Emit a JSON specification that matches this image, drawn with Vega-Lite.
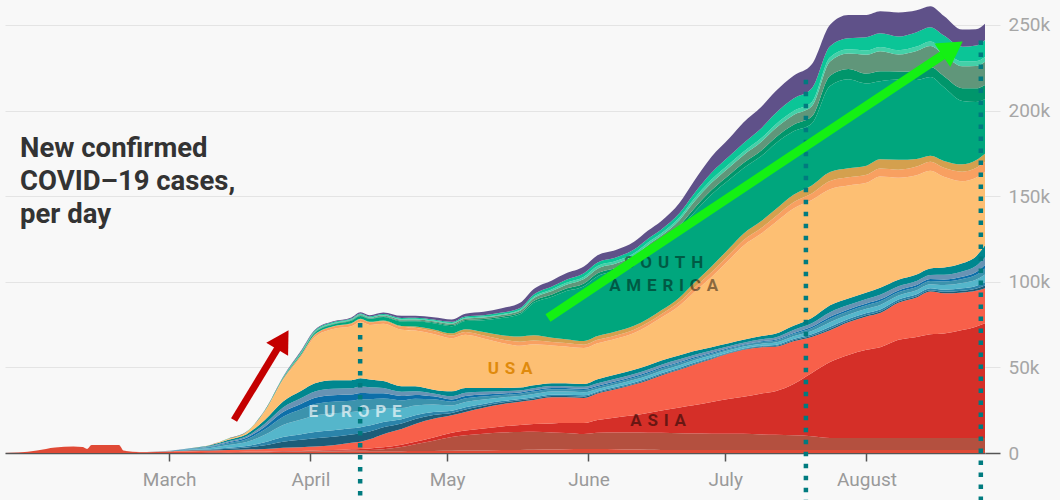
{
"$schema": "https://vega.github.io/schema/vega-lite/v6.json",
"width": 980, "height": 453,
"autosize": {"type": "none"},
"padding": {"left": 5, "top": 0, "right": 75, "bottom": 47},
"background": "#f8f8f8",
"config": {"font": "Roboto", "view": {"stroke": null}},
"datasets": {
"regions": [
{"region":"E Asia","k":1},{"region":"W Asia","k":2},{"region":"S Asia","k":3},{"region":"SE Asia","k":4},
{"region":"E Europe","k":5},{"region":"C Europe","k":6},{"region":"W Europe","k":7},{"region":"S Europe","k":8},{"region":"N Europe","k":9},{"region":"Balkans","k":10},{"region":"UK","k":11},
{"region":"USA","k":12},{"region":"Canada","k":13},{"region":"Mexico","k":14},
{"region":"Brazil","k":15},{"region":"Peru","k":16},{"region":"Chile","k":17},{"region":"Colombia","k":18},{"region":"Argentina","k":19},{"region":"Africa","k":20}],
"cases": [
{"date":"2020-01-25","E Asia":0,"W Asia":0,"S Asia":0,"SE Asia":0,"E Europe":0,"C Europe":0,"W Europe":0,"S Europe":0,"N Europe":0,"Balkans":0,"UK":0,"USA":0,"Canada":0,"Mexico":0,"Brazil":0,"Peru":0,"Chile":0,"Colombia":0,"Argentina":0,"Africa":0},
{"date":"2020-01-28","E Asia":0.3,"W Asia":0,"S Asia":0,"SE Asia":0,"E Europe":0,"C Europe":0,"W Europe":0,"S Europe":0,"N Europe":0,"Balkans":0,"UK":0,"USA":0,"Canada":0,"Mexico":0,"Brazil":0,"Peru":0,"Chile":0,"Colombia":0,"Argentina":0,"Africa":0},
{"date":"2020-02-01","E Asia":1.5,"W Asia":0,"S Asia":0,"SE Asia":0,"E Europe":0,"C Europe":0,"W Europe":0,"S Europe":0,"N Europe":0,"Balkans":0,"UK":0,"USA":0,"Canada":0,"Mexico":0,"Brazil":0,"Peru":0,"Chile":0,"Colombia":0,"Argentina":0,"Africa":0},
{"date":"2020-02-05","E Asia":3.2,"W Asia":0,"S Asia":0,"SE Asia":0,"E Europe":0,"C Europe":0,"W Europe":0,"S Europe":0,"N Europe":0,"Balkans":0,"UK":0,"USA":0,"Canada":0,"Mexico":0,"Brazil":0,"Peru":0,"Chile":0,"Colombia":0,"Argentina":0,"Africa":0},
{"date":"2020-02-09","E Asia":3.8,"W Asia":0,"S Asia":0,"SE Asia":0,"E Europe":0,"C Europe":0,"W Europe":0,"S Europe":0,"N Europe":0,"Balkans":0,"UK":0,"USA":0,"Canada":0,"Mexico":0,"Brazil":0,"Peru":0,"Chile":0,"Colombia":0,"Argentina":0,"Africa":0},
{"date":"2020-02-11","E Asia":3.5,"W Asia":0,"S Asia":0,"SE Asia":0,"E Europe":0,"C Europe":0,"W Europe":0,"S Europe":0,"N Europe":0,"Balkans":0,"UK":0,"USA":0,"Canada":0,"Mexico":0,"Brazil":0,"Peru":0,"Chile":0,"Colombia":0,"Argentina":0,"Africa":0},
{"date":"2020-02-12","E Asia":2.4,"W Asia":0,"S Asia":0,"SE Asia":0,"E Europe":0,"C Europe":0,"W Europe":0,"S Europe":0,"N Europe":0,"Balkans":0,"UK":0,"USA":0,"Canada":0,"Mexico":0,"Brazil":0,"Peru":0,"Chile":0,"Colombia":0,"Argentina":0,"Africa":0},
{"date":"2020-02-13","E Asia":4.7,"W Asia":0,"S Asia":0,"SE Asia":0,"E Europe":0,"C Europe":0,"W Europe":0,"S Europe":0,"N Europe":0,"Balkans":0,"UK":0,"USA":0,"Canada":0,"Mexico":0,"Brazil":0,"Peru":0,"Chile":0,"Colombia":0,"Argentina":0,"Africa":0},
{"date":"2020-02-19","E Asia":4.7,"W Asia":0,"S Asia":0,"SE Asia":0,"E Europe":0,"C Europe":0,"W Europe":0,"S Europe":0,"N Europe":0,"Balkans":0,"UK":0,"USA":0,"Canada":0,"Mexico":0,"Brazil":0,"Peru":0,"Chile":0,"Colombia":0,"Argentina":0,"Africa":0},
{"date":"2020-02-20","E Asia":1.5,"W Asia":0,"S Asia":0,"SE Asia":0,"E Europe":0,"C Europe":0,"W Europe":0,"S Europe":0,"N Europe":0,"Balkans":0,"UK":0,"USA":0,"Canada":0,"Mexico":0,"Brazil":0,"Peru":0,"Chile":0,"Colombia":0,"Argentina":0,"Africa":0},
{"date":"2020-02-22","E Asia":0.8,"W Asia":0,"S Asia":0,"SE Asia":0,"E Europe":0,"C Europe":0,"W Europe":0,"S Europe":0,"N Europe":0,"Balkans":0,"UK":0,"USA":0,"Canada":0,"Mexico":0,"Brazil":0,"Peru":0,"Chile":0,"Colombia":0,"Argentina":0,"Africa":0},
{"date":"2020-02-25","E Asia":0.5,"W Asia":0,"S Asia":0,"SE Asia":0.1,"E Europe":0,"C Europe":0,"W Europe":0,"S Europe":0,"N Europe":0,"Balkans":0,"UK":0,"USA":0,"Canada":0,"Mexico":0,"Brazil":0,"Peru":0,"Chile":0,"Colombia":0,"Argentina":0,"Africa":0},
{"date":"2020-03-01","E Asia":0.6,"W Asia":0.1,"S Asia":0,"SE Asia":0.3,"E Europe":0.04,"C Europe":0.03,"W Europe":0.08,"S Europe":0.05,"N Europe":0.03,"Balkans":0.03,"UK":0.04,"USA":0,"Canada":0,"Mexico":0,"Brazil":0,"Peru":0,"Chile":0,"Colombia":0,"Argentina":0,"Africa":0},
{"date":"2020-03-06","E Asia":0.7,"W Asia":0.1,"S Asia":0,"SE Asia":0.7,"E Europe":0.18,"C Europe":0.14,"W Europe":0.36,"S Europe":0.25,"N Europe":0.14,"Balkans":0.14,"UK":0.18,"USA":0.1,"Canada":0,"Mexico":0,"Brazil":0,"Peru":0,"Chile":0,"Colombia":0,"Argentina":0,"Africa":0},
{"date":"2020-03-10","E Asia":0.5,"W Asia":0.1,"S Asia":0,"SE Asia":0.9,"E Europe":0.39,"C Europe":0.3,"W Europe":0.78,"S Europe":0.54,"N Europe":0.3,"Balkans":0.3,"UK":0.39,"USA":0.2,"Canada":0,"Mexico":0,"Brazil":0,"Peru":0,"Chile":0,"Colombia":0,"Argentina":0,"Africa":0},
{"date":"2020-03-14","E Asia":0.4,"W Asia":0.1,"S Asia":0,"SE Asia":1.2,"E Europe":0.78,"C Europe":0.6,"W Europe":1.56,"S Europe":1.08,"N Europe":0.6,"Balkans":0.6,"UK":0.78,"USA":0.6,"Canada":0,"Mexico":0,"Brazil":0.1,"Peru":0,"Chile":0,"Colombia":0,"Argentina":0,"Africa":0.1},
{"date":"2020-03-18","E Asia":0.5,"W Asia":0.2,"S Asia":0.1,"SE Asia":1.2,"E Europe":1.17,"C Europe":0.9,"W Europe":2.34,"S Europe":1.62,"N Europe":0.9,"Balkans":0.9,"UK":1.17,"USA":1.2,"Canada":0.1,"Mexico":0,"Brazil":0.1,"Peru":0,"Chile":0,"Colombia":0,"Argentina":0,"Africa":0.1},
{"date":"2020-03-22","E Asia":0.5,"W Asia":0.2,"S Asia":0.1,"SE Asia":1.5,"E Europe":2.21,"C Europe":1.7,"W Europe":4.42,"S Europe":3.06,"N Europe":1.7,"Balkans":1.7,"UK":2.21,"USA":5,"Canada":0.3,"Mexico":0.05,"Brazil":0.2,"Peru":0,"Chile":0,"Colombia":0,"Argentina":0.1,"Africa":0.1},
{"date":"2020-03-26","E Asia":0.6,"W Asia":0.3,"S Asia":0.2,"SE Asia":2.0,"E Europe":3.51,"C Europe":2.7,"W Europe":7.02,"S Europe":4.86,"N Europe":2.7,"Balkans":2.7,"UK":3.51,"USA":12.5,"Canada":0.6,"Mexico":0.1,"Brazil":0.4,"Peru":0.1,"Chile":0.1,"Colombia":0.1,"Argentina":0.3,"Africa":0.3},
{"date":"2020-03-30","E Asia":0.7,"W Asia":0.3,"S Asia":0.2,"SE Asia":2.2,"E Europe":4.29,"C Europe":3.3,"W Europe":8.58,"S Europe":5.94,"N Europe":3.3,"Balkans":3.3,"UK":4.29,"USA":20,"Canada":1.0,"Mexico":0.1,"Brazil":0.8,"Peru":0.1,"Chile":0.2,"Colombia":0.2,"Argentina":0.6,"Africa":0.6},
{"date":"2020-04-02","E Asia":0.8,"W Asia":0.3,"S Asia":0.3,"SE Asia":2.4,"E Europe":4.81,"C Europe":3.7,"W Europe":9.62,"S Europe":6.66,"N Europe":3.7,"Balkans":3.7,"UK":4.81,"USA":27,"Canada":1.3,"Mexico":0.2,"Brazil":1.0,"Peru":0.2,"Chile":0.3,"Colombia":0.3,"Argentina":0.5,"Africa":0.4},
{"date":"2020-04-06","E Asia":0.9,"W Asia":0.4,"S Asia":0.4,"SE Asia":2.8,"E Europe":4.94,"C Europe":3.8,"W Europe":9.88,"S Europe":6.84,"N Europe":3.8,"Balkans":3.8,"UK":4.94,"USA":30,"Canada":1.4,"Mexico":0.2,"Brazil":1.0,"Peru":0.2,"Chile":0.3,"Colombia":0.3,"Argentina":0.6,"Africa":0.4},
{"date":"2020-04-10","E Asia":1.0,"W Asia":0.5,"S Asia":0.7,"SE Asia":3.8,"E Europe":4.75,"C Europe":3.65,"W Europe":9.49,"S Europe":6.57,"N Europe":3.65,"Balkans":3.65,"UK":4.75,"USA":31.5,"Canada":1.5,"Mexico":0.3,"Brazil":1.4,"Peru":0.3,"Chile":0.3,"Colombia":0.3,"Argentina":0.5,"Africa":0.6},
{"date":"2020-04-12","E Asia":1.0,"W Asia":0.6,"S Asia":0.8,"SE Asia":4.2,"E Europe":4.81,"C Europe":3.7,"W Europe":9.62,"S Europe":6.66,"N Europe":3.7,"Balkans":3.7,"UK":4.81,"USA":33,"Canada":1.5,"Mexico":0.3,"Brazil":1.6,"Peru":0.3,"Chile":0.4,"Colombia":0.3,"Argentina":0.5,"Africa":0.7},
{"date":"2020-04-14","E Asia":1.0,"W Asia":0.8,"S Asia":0.9,"SE Asia":5.3,"E Europe":4.55,"C Europe":3.5,"W Europe":9.1,"S Europe":6.3,"N Europe":3.5,"Balkans":3.5,"UK":4.55,"USA":31.8,"Canada":1.5,"Mexico":0.3,"Brazil":1.7,"Peru":0.3,"Chile":0.4,"Colombia":0.3,"Argentina":0.5,"Africa":0.7},
{"date":"2020-04-17","E Asia":1.0,"W Asia":1.2,"S Asia":1.1,"SE Asia":7.7,"E Europe":4.03,"C Europe":3.1,"W Europe":8.06,"S Europe":5.58,"N Europe":3.1,"Balkans":3.1,"UK":4.03,"USA":33.5,"Canada":1.5,"Mexico":0.4,"Brazil":2.0,"Peru":0.4,"Chile":0.5,"Colombia":0.3,"Argentina":0.6,"Africa":0.9},
{"date":"2020-04-21","E Asia":1.0,"W Asia":2.5,"S Asia":1.3,"SE Asia":9.2,"E Europe":3.25,"C Europe":2.5,"W Europe":6.5,"S Europe":4.5,"N Europe":2.5,"Balkans":2.5,"UK":3.25,"USA":33,"Canada":1.7,"Mexico":0.5,"Brazil":2.6,"Peru":0.5,"Chile":0.6,"Colombia":0.4,"Argentina":0.6,"Africa":1.2},
{"date":"2020-04-24","E Asia":1.1,"W Asia":4,"S Asia":1.5,"SE Asia":10.4,"E Europe":2.86,"C Europe":2.2,"W Europe":5.72,"S Europe":3.96,"N Europe":2.2,"Balkans":2.2,"UK":2.86,"USA":32.5,"Canada":1.7,"Mexico":0.7,"Brazil":3.0,"Peru":0.5,"Chile":0.6,"Colombia":0.4,"Argentina":0.6,"Africa":1.2},
{"date":"2020-04-28","E Asia":1.2,"W Asia":6,"S Asia":1.9,"SE Asia":10.9,"E Europe":2.21,"C Europe":1.7,"W Europe":4.42,"S Europe":3.06,"N Europe":1.7,"Balkans":1.7,"UK":2.21,"USA":32.5,"Canada":1.7,"Mexico":1.0,"Brazil":3.6,"Peru":0.5,"Chile":0.7,"Colombia":0.4,"Argentina":0.6,"Africa":1.3},
{"date":"2020-05-02","E Asia":1.3,"W Asia":8,"S Asia":2.5,"SE Asia":10.2,"E Europe":1.4,"C Europe":1.26,"W Europe":3.08,"S Europe":2.24,"N Europe":1.26,"Balkans":1.96,"UK":2.8,"USA":31,"Canada":1.6,"Mexico":1.3,"Brazil":4.2,"Peru":0.6,"Chile":0.8,"Colombia":0.4,"Argentina":0.7,"Africa":1.4},
{"date":"2020-05-05","E Asia":1.4,"W Asia":9,"S Asia":2.7,"SE Asia":10.9,"E Europe":1.4,"C Europe":1.26,"W Europe":3.08,"S Europe":2.24,"N Europe":1.26,"Balkans":1.96,"UK":2.8,"USA":31,"Canada":1.7,"Mexico":1.6,"Brazil":4.8,"Peru":0.6,"Chile":0.8,"Colombia":0.5,"Argentina":0.8,"Africa":1.6},
{"date":"2020-05-09","E Asia":1.5,"W Asia":9.8,"S Asia":3.0,"SE Asia":12.2,"E Europe":1.15,"C Europe":1.04,"W Europe":2.53,"S Europe":1.84,"N Europe":1.04,"Balkans":1.61,"UK":2.3,"USA":28.8,"Canada":1.8,"Mexico":2.0,"Brazil":7.0,"Peru":0.7,"Chile":0.9,"Colombia":0.5,"Argentina":0.8,"Africa":2.0},
{"date":"2020-05-13","E Asia":1.7,"W Asia":10.3,"S Asia":3.5,"SE Asia":13,"E Europe":0.95,"C Europe":0.86,"W Europe":2.09,"S Europe":1.52,"N Europe":0.86,"Balkans":1.33,"UK":1.9,"USA":26.3,"Canada":2.0,"Mexico":2.5,"Brazil":10,"Peru":0.8,"Chile":1.0,"Colombia":0.5,"Argentina":0.9,"Africa":2.5},
{"date":"2020-05-17","E Asia":1.8,"W Asia":10.5,"S Asia":4.0,"SE Asia":13.7,"E Europe":0.82,"C Europe":0.74,"W Europe":1.8,"S Europe":1.31,"N Europe":0.74,"Balkans":1.15,"UK":1.64,"USA":24.5,"Canada":2.3,"Mexico":3.0,"Brazil":13,"Peru":0.9,"Chile":1.2,"Colombia":0.6,"Argentina":1.0,"Africa":3.0},
{"date":"2020-05-20","E Asia":1.9,"W Asia":10.5,"S Asia":4.5,"SE Asia":14.1,"E Europe":0.85,"C Europe":0.77,"W Europe":1.87,"S Europe":1.36,"N Europe":0.77,"Balkans":1.19,"UK":1.7,"USA":24,"Canada":2.2,"Mexico":3.0,"Brazil":19,"Peru":1.1,"Chile":1.6,"Colombia":0.8,"Argentina":1.4,"Africa":3.2},
{"date":"2020-05-24","E Asia":2.0,"W Asia":10,"S Asia":5.3,"SE Asia":15.2,"E Europe":0.83,"C Europe":0.75,"W Europe":1.83,"S Europe":1.33,"N Europe":0.75,"Balkans":1.16,"UK":1.66,"USA":22,"Canada":2,"Mexico":2.5,"Brazil":24,"Peru":1.3,"Chile":2.0,"Colombia":1.0,"Argentina":1.7,"Africa":3.5},
{"date":"2020-05-27","E Asia":2.2,"W Asia":9.5,"S Asia":5.8,"SE Asia":15,"E Europe":0.82,"C Europe":0.74,"W Europe":1.8,"S Europe":1.31,"N Europe":0.74,"Balkans":1.15,"UK":1.64,"USA":21.5,"Canada":2,"Mexico":2.3,"Brazil":28,"Peru":1.4,"Chile":2.2,"Colombia":1.2,"Argentina":1.8,"Africa":3.7},
{"date":"2020-05-31","E Asia":2.3,"W Asia":8.8,"S Asia":6.4,"SE Asia":14.6,"E Europe":0.82,"C Europe":0.74,"W Europe":1.8,"S Europe":1.31,"N Europe":0.74,"Balkans":1.15,"UK":1.64,"USA":21,"Canada":2.0,"Mexico":2.1,"Brazil":32,"Peru":1.6,"Chile":2.6,"Colombia":1.4,"Argentina":2.0,"Africa":3.9},
{"date":"2020-06-03","E Asia":2.3,"W Asia":9.5,"S Asia":7.5,"SE Asia":15.5,"E Europe":0.5,"C Europe":0.66,"W Europe":1.49,"S Europe":1.16,"N Europe":0.66,"Balkans":1.49,"UK":2.32,"USA":21,"Canada":2,"Mexico":2.2,"Brazil":35,"Peru":1.7,"Chile":2.7,"Colombia":1.5,"Argentina":2.1,"Africa":4.2},
{"date":"2020-06-07","E Asia":2.2,"W Asia":9.8,"S Asia":8.8,"SE Asia":16.5,"E Europe":0.51,"C Europe":0.68,"W Europe":1.53,"S Europe":1.19,"N Europe":0.68,"Balkans":1.53,"UK":2.38,"USA":21,"Canada":1.9,"Mexico":2.2,"Brazil":35.5,"Peru":1.7,"Chile":2.6,"Colombia":1.4,"Argentina":2.1,"Africa":4.4},
{"date":"2020-06-11","E Asia":2.0,"W Asia":10,"S Asia":10,"SE Asia":18,"E Europe":0.52,"C Europe":0.69,"W Europe":1.55,"S Europe":1.2,"N Europe":0.69,"Balkans":1.55,"UK":2.41,"USA":21.5,"Canada":1.9,"Mexico":2.3,"Brazil":36.5,"Peru":1.7,"Chile":2.7,"Colombia":1.4,"Argentina":2.2,"Africa":4.6},
{"date":"2020-06-14","E Asia":1.9,"W Asia":10,"S Asia":11.5,"SE Asia":19,"E Europe":0.52,"C Europe":0.7,"W Europe":1.57,"S Europe":1.22,"N Europe":0.7,"Balkans":1.57,"UK":2.44,"USA":23,"Canada":1.9,"Mexico":2.3,"Brazil":38.5,"Peru":1.8,"Chile":2.8,"Colombia":1.4,"Argentina":2.2,"Africa":4.8},
{"date":"2020-06-17","E Asia":1.8,"W Asia":10,"S Asia":13,"SE Asia":20.5,"E Europe":0.53,"C Europe":0.7,"W Europe":1.58,"S Europe":1.23,"N Europe":0.7,"Balkans":1.58,"UK":2.46,"USA":25,"Canada":2,"Mexico":2.3,"Brazil":39,"Peru":1.8,"Chile":2.8,"Colombia":1.4,"Argentina":2.2,"Africa":5},
{"date":"2020-06-21","E Asia":1.8,"W Asia":9.8,"S Asia":15,"SE Asia":22,"E Europe":0.51,"C Europe":0.68,"W Europe":1.53,"S Europe":1.19,"N Europe":0.68,"Balkans":1.53,"UK":2.38,"USA":29,"Canada":2.2,"Mexico":2.6,"Brazil":40,"Peru":2.0,"Chile":3.2,"Colombia":1.6,"Argentina":2.5,"Africa":6},
{"date":"2020-06-24","E Asia":1.8,"W Asia":9.6,"S Asia":16.5,"SE Asia":23.5,"E Europe":0.48,"C Europe":0.64,"W Europe":1.44,"S Europe":1.12,"N Europe":0.64,"Balkans":1.44,"UK":2.24,"USA":34,"Canada":2.5,"Mexico":3,"Brazil":41,"Peru":2.4,"Chile":3.8,"Colombia":1.8,"Argentina":3.0,"Africa":7.2},
{"date":"2020-06-28","E Asia":1.8,"W Asia":9.5,"S Asia":18.5,"SE Asia":25,"E Europe":0.42,"C Europe":0.56,"W Europe":1.26,"S Europe":0.98,"N Europe":0.56,"Balkans":1.26,"UK":1.96,"USA":41,"Canada":2.8,"Mexico":3.4,"Brazil":42,"Peru":2.6,"Chile":4.2,"Colombia":1.9,"Argentina":4.0,"Africa":9.3},
{"date":"2020-07-02","E Asia":1.8,"W Asia":9.4,"S Asia":20.5,"SE Asia":26.5,"E Europe":0.36,"C Europe":0.48,"W Europe":1.08,"S Europe":0.84,"N Europe":0.48,"Balkans":1.08,"UK":1.68,"USA":49,"Canada":3,"Mexico":3.7,"Brazil":40,"Peru":2.8,"Chile":4.4,"Colombia":2.0,"Argentina":4.5,"Africa":10.5},
{"date":"2020-07-05","E Asia":1.8,"W Asia":9.4,"S Asia":21.6,"SE Asia":27.5,"E Europe":0.35,"C Europe":0.46,"W Europe":1.04,"S Europe":0.81,"N Europe":0.46,"Balkans":1.04,"UK":1.62,"USA":55,"Canada":3.2,"Mexico":3.8,"Brazil":38.3,"Peru":3.0,"Chile":4.6,"Colombia":2.0,"Argentina":5.0,"Africa":12},
{"date":"2020-07-09","E Asia":1.8,"W Asia":9,"S Asia":24,"SE Asia":27,"E Europe":0.39,"C Europe":0.52,"W Europe":1.17,"S Europe":0.91,"N Europe":0.52,"Balkans":1.17,"UK":1.82,"USA":60,"Canada":3.3,"Mexico":4.0,"Brazil":38,"Peru":3.3,"Chile":5.0,"Colombia":2.2,"Argentina":5.8,"Africa":12.5},
{"date":"2020-07-12","E Asia":1.8,"W Asia":8.8,"S Asia":25.5,"SE Asia":26,"E Europe":0.45,"C Europe":0.6,"W Europe":1.35,"S Europe":1.05,"N Europe":0.6,"Balkans":1.35,"UK":2.1,"USA":65,"Canada":3.4,"Mexico":4.2,"Brazil":38.5,"Peru":3.5,"Chile":5.3,"Colombia":2.3,"Argentina":6.5,"Africa":12.8},
{"date":"2020-07-16","E Asia":1.8,"W Asia":8.5,"S Asia":30,"SE Asia":25,"E Europe":0.54,"C Europe":0.72,"W Europe":1.62,"S Europe":1.26,"N Europe":0.72,"Balkans":1.62,"UK":2.52,"USA":68.5,"Canada":3.6,"Mexico":4.5,"Brazil":37,"Peru":3.8,"Chile":5.7,"Colombia":2.4,"Argentina":7.2,"Africa":13.3},
{"date":"2020-07-20","E Asia":1.8,"W Asia":8,"S Asia":37,"SE Asia":21,"E Europe":0.66,"C Europe":0.88,"W Europe":1.98,"S Europe":1.54,"N Europe":0.88,"Balkans":1.98,"UK":3.08,"USA":69,"Canada":3.8,"Mexico":4.7,"Brazil":36.2,"Peru":4.0,"Chile":6.0,"Colombia":2.5,"Argentina":8.0,"Africa":14},
{"date":"2020-07-24","E Asia":1.8,"W Asia":7,"S Asia":44.4,"SE Asia":18.5,"E Europe":0.88,"C Europe":1.17,"W Europe":2.63,"S Europe":2.04,"N Europe":1.17,"Balkans":2.63,"UK":4.09,"USA":67.8,"Canada":4.7,"Mexico":5.3,"Brazil":50.3,"Peru":6,"Chile":8.2,"Colombia":2.5,"Argentina":6.5,"Africa":12.5},
{"date":"2020-07-28","E Asia":1.8,"W Asia":7,"S Asia":48.5,"SE Asia":19,"E Europe":0.84,"C Europe":1.12,"W Europe":2.52,"S Europe":1.96,"N Europe":1.12,"Balkans":2.52,"UK":3.92,"USA":66,"Canada":4.7,"Mexico":5.3,"Brazil":52,"Peru":6,"Chile":9,"Colombia":2.5,"Argentina":6.5,"Africa":13.6},
{"date":"2020-08-01","E Asia":1.8,"W Asia":7,"S Asia":51.5,"SE Asia":19.5,"E Europe":0.84,"C Europe":1.12,"W Europe":2.52,"S Europe":1.96,"N Europe":1.12,"Balkans":2.52,"UK":3.92,"USA":64,"Canada":4.7,"Mexico":5.3,"Brazil":48,"Peru":5.8,"Chile":11,"Colombia":2.5,"Argentina":7.8,"Africa":13},
{"date":"2020-08-04","E Asia":1.8,"W Asia":7,"S Asia":53,"SE Asia":20,"E Europe":0.88,"C Europe":1.18,"W Europe":2.65,"S Europe":2.06,"N Europe":1.18,"Balkans":2.65,"UK":4.12,"USA":65,"Canada":4.7,"Mexico":5.3,"Brazil":45.6,"Peru":5.8,"Chile":11.7,"Colombia":2.5,"Argentina":8,"Africa":12.9},
{"date":"2020-08-08","E Asia":1.8,"W Asia":7,"S Asia":57.3,"SE Asia":21.6,"E Europe":0.81,"C Europe":1.08,"W Europe":2.43,"S Europe":1.89,"N Europe":1.08,"Balkans":2.43,"UK":3.78,"USA":59.6,"Canada":4.7,"Mexico":5.8,"Brazil":46.8,"Peru":4.7,"Chile":10,"Colombia":2.5,"Argentina":8,"Africa":14},
{"date":"2020-08-12","E Asia":1.8,"W Asia":7,"S Asia":59,"SE Asia":23,"E Europe":0.81,"C Europe":1.08,"W Europe":2.43,"S Europe":1.89,"N Europe":1.08,"Balkans":2.43,"UK":3.78,"USA":58,"Canada":5,"Mexico":4.5,"Brazil":46,"Peru":5.5,"Chile":11.5,"Colombia":2.6,"Argentina":8.4,"Africa":12.8},
{"date":"2020-08-15","E Asia":1.8,"W Asia":7,"S Asia":60.5,"SE Asia":25,"E Europe":0.81,"C Europe":1.08,"W Europe":2.43,"S Europe":1.89,"N Europe":1.08,"Balkans":2.43,"UK":3.78,"USA":57,"Canada":5.3,"Mexico":3.5,"Brazil":46,"Peru":5.8,"Chile":12.3,"Colombia":2.7,"Argentina":8.3,"Africa":12.3},
{"date":"2020-08-18","E Asia":1.8,"W Asia":7,"S Asia":61,"SE Asia":23.5,"E Europe":0.9,"C Europe":1.2,"W Europe":2.7,"S Europe":2.1,"N Europe":1.2,"Balkans":2.7,"UK":4.2,"USA":53,"Canada":5.3,"Mexico":4,"Brazil":43,"Peru":6.5,"Chile":12.5,"Colombia":2.7,"Argentina":8.5,"Africa":11.5},
{"date":"2020-08-22","E Asia":1.8,"W Asia":7,"S Asia":63,"SE Asia":22,"E Europe":1.02,"C Europe":1.36,"W Europe":3.06,"S Europe":2.38,"N Europe":1.36,"Balkans":3.06,"UK":4.76,"USA":48,"Canada":5.5,"Mexico":4.3,"Brazil":37,"Peru":7.5,"Chile":12.8,"Colombia":2.8,"Argentina":8.6,"Africa":10},
{"date":"2020-08-25","E Asia":1.8,"W Asia":7,"S Asia":65,"SE Asia":21,"E Europe":1.2,"C Europe":1.6,"W Europe":3.6,"S Europe":2.8,"N Europe":1.6,"Balkans":3.6,"UK":5.6,"USA":46,"Canada":5.6,"Mexico":4.6,"Brazil":34,"Peru":8,"Chile":13,"Colombia":2.8,"Argentina":9.2,"Africa":9.5},
{"date":"2020-08-27","E Asia":1.8,"W Asia":7,"S Asia":67,"SE Asia":20.5,"E Europe":1.5,"C Europe":2,"W Europe":4.5,"S Europe":3.5,"N Europe":2,"Balkans":4.5,"UK":7,"USA":43,"Canada":5.8,"Mexico":4.7,"Brazil":32,"Peru":8.2,"Chile":13.5,"Colombia":2.8,"Argentina":10,"Africa":9.4}
]
},
"layer": [
{
"data": {"name": "cases"},
"transform": [
{"fold": ["E Asia","W Asia","S Asia","SE Asia","E Europe","C Europe","W Europe","S Europe","N Europe","Balkans","UK","USA","Canada","Mexico","Brazil","Peru","Chile","Colombia","Argentina","Africa"], "as": ["region","cases"]},
{"lookup": "region", "from": {"data": {"name": "regions"}, "key": "region", "fields": ["k"]}}
],
"mark": {"type": "area", "interpolate": "monotone"},
"encoding": {
"x": {"field": "date", "type": "temporal",
"scale": {"type": "utc", "domain": [{"year": 2020, "month": 1, "date": 25, "utc": true}, {"year": 2020, "month": 8, "date": 27, "utc": true}]},
"axis": {"title": null, "grid": false,
"values": [{"year": 2020, "month": 3, "date": 1, "utc": true}, {"year": 2020, "month": 4, "date": 1, "utc": true}, {"year": 2020, "month": 5, "date": 1, "utc": true}, {"year": 2020, "month": 6, "date": 1, "utc": true}, {"year": 2020, "month": 7, "date": 1, "utc": true}, {"year": 2020, "month": 8, "date": 1, "utc": true}],
"labelExpr": "utcFormat(datum.value, '%B')",
"domainColor": "#555555", "domainWidth": 1.5, "tickColor": "#555555", "tickWidth": 1.5, "tickSize": 8,
"labelColor": "#9a9a9a", "labelFontSize": 19, "labelFont": "Roboto", "labelPadding": 9}},
"y": {"field": "cases", "type": "quantitative", "stack": "zero",
"scale": {"domain": [0, 264.6], "nice": false},
"axis": {"orient": "right", "title": null, "domain": false,
"values": [0, 50, 100, 150, 200, 250],
"labelExpr": "datum.value == 0 ? '0' : datum.value + 'k'",
"grid": true, "gridColor": "#e4e4e4", "gridWidth": 1,
"tickSize": 15, "tickColor": {"condition": {"test": "datum.value === 0", "value": "#555555"}, "value": "#e4e4e4"},
"tickWidth": {"condition": {"test": "datum.value === 0", "value": 1.5}, "value": 1},
"labelColor": "#a6a6a6", "labelFontSize": 19, "labelFont": "Roboto", "labelPadding": 8}},
"color": {"field": "region", "type": "nominal", "legend": null,
"scale": {"domain": ["E Asia","W Asia","S Asia","SE Asia","E Europe","C Europe","W Europe","S Europe","N Europe","Balkans","UK","USA","Canada","Mexico","Brazil","Peru","Chile","Colombia","Argentina","Africa"],
"range": ["#e04a36","#b4503f","#d52f28","#f8604a","#1c5d79","#2b84aa","#55b6cb","#3c93ad","#0d6fa9","#6893b4","#00878f","#fdbf73","#f8a061","#d4a04e","#00a67d","#00966b","#60967a","#44d0a8","#0bc597","#5f5189"]}},
"order": {"field": "k", "type": "quantitative"}
}
},
{
"data": {"values": [{}]},
"mark": {"type": "text", "text": "E\u2004U\u2004R\u2004O\u2004P\u2004E", "align": "center", "baseline": "alphabetic", "font": "Roboto", "fontWeight": "bold", "fontSize": 17, "color": "#ffffff", "opacity": 0.65},
"encoding": {"x": {"datum": {"year": 2020, "month": 4, "date": 10, "hours": 19, "utc": true}, "type": "temporal"}, "y": {"datum": 21.0, "type": "quantitative"}}
},
{
"data": {"values": [{}]},
"mark": {"type": "text", "text": "U\u2004S\u2004A", "align": "center", "baseline": "alphabetic", "font": "Roboto", "fontWeight": "bold", "fontSize": 17, "color": "#e08a0c"},
"encoding": {"x": {"datum": {"year": 2020, "month": 5, "date": 14, "hours": 19, "utc": true}, "type": "temporal"}, "y": {"datum": 46.1, "type": "quantitative"}}
},
{
"data": {"values": [{}]},
"mark": {"type": "text", "text": "S\u2004O\u2004U\u2004T\u2004H\nA\u2004M\u2004E\u2004R\u2004I\u2004C\u2004A", "lineBreak": "\n", "lineHeight": 23, "align": "center", "baseline": "alphabetic", "font": "Roboto", "fontWeight": "bold", "fontSize": 17, "color": "#000000", "opacity": 0.45},
"encoding": {"x": {"datum": {"year": 2020, "month": 6, "date": 17, "hours": 12, "utc": true}, "type": "temporal"}, "y": {"datum": 108.1, "type": "quantitative"}}
},
{
"data": {"values": [{}]},
"mark": {"type": "text", "text": "A\u2004S\u2004I\u2004A", "align": "center", "baseline": "alphabetic", "font": "Roboto", "fontWeight": "bold", "fontSize": 17, "color": "#000000", "opacity": 0.5},
"encoding": {"x": {"datum": {"year": 2020, "month": 6, "date": 16, "hours": 7, "utc": true}, "type": "temporal"}, "y": {"datum": 15.8, "type": "quantitative"}}
},
{
"data": {"values": [{}]},
"mark": {"type": "text", "text": "New confirmed\nCOVID–19 cases,\nper day", "lineBreak": "\n", "lineHeight": 33, "align": "left", "baseline": "alphabetic", "font": "Roboto", "fontWeight": "bold", "fontSize": 27.5, "color": "#333333"},
"encoding": {"x": {"datum": {"year": 2020, "month": 1, "date": 28, "hours": 7, "utc": true}, "type": "temporal"}, "y": {"datum": 173.1, "type": "quantitative"}}
},
{
"data": {"values": [{"date": "2020-04-11T22:00:00Z", "top": 76}, {"date": "2020-07-18T17:00:00Z", "top": 218}, {"date": "2020-08-26T02:00:00Z", "top": 241}]},
"mark": {"type": "rule", "color": "#007b7f", "strokeWidth": 4.5, "strokeDash": [4.5, 7.5], "strokeCap": "butt"},
"encoding": {"x": {"field": "date", "type": "temporal"}, "y": {"field": "top", "type": "quantitative"}, "y2": {"datum": -30}}
},
{
"data": {"values": [{}]},
"mark": {"type": "rule", "color": "#c40000", "strokeWidth": 7, "strokeCap": "butt"},
"encoding": {"x": {"datum": {"year": 2020, "month": 3, "date": 15, "hours": 6, "utc": true}, "type": "temporal"}, "y": {"datum": 19.3, "type": "quantitative"}, "x2": {"datum": {"year": 2020, "month": 3, "date": 25, "hours": 4, "utc": true}}, "y2": {"datum": 62.7}}
},
{
"data": {"values": [{}]},
"mark": {"type": "point", "shape": "triangle-up", "filled": true, "size": 650, "angle": 31, "color": "#c40000", "opacity": 1},
"encoding": {"x": {"datum": {"year": 2020, "month": 3, "date": 25, "hours": 23, "utc": true}, "type": "temporal"}, "y": {"datum": 66.1, "type": "quantitative"}}
},
{
"data": {"values": [{}]},
"mark": {"type": "rule", "color": "#14f014", "strokeWidth": 9, "strokeCap": "butt"},
"encoding": {"x": {"datum": {"year": 2020, "month": 5, "date": 23, "hours": 3, "utc": true}, "type": "temporal"}, "y": {"datum": 78.9, "type": "quantitative"}, "x2": {"datum": {"year": 2020, "month": 8, "date": 18, "hours": 10, "utc": true}}, "y2": {"datum": 233.6}}
},
{
"data": {"values": [{}]},
"mark": {"type": "point", "shape": "triangle-up", "filled": true, "size": 800, "angle": 56, "color": "#14f014", "opacity": 1},
"encoding": {"x": {"datum": {"year": 2020, "month": 8, "date": 19, "hours": 21, "utc": true}, "type": "temporal"}, "y": {"datum": 236.3, "type": "quantitative"}}
}
]
}
